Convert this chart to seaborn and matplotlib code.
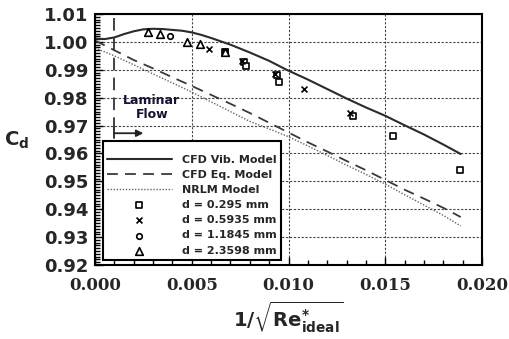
import numpy as np
import pandas as pd
import matplotlib
matplotlib.use("Agg")
import matplotlib.pyplot as plt
import seaborn as sns

# ---- data ----
vib_x = [0.0, 0.0005, 0.001, 0.0015, 0.002, 0.0025, 0.003, 0.0035, 0.004, 0.0045,
         0.005, 0.0055, 0.006, 0.0065, 0.007, 0.008, 0.009, 0.0099, 0.011, 0.012,
         0.013, 0.014, 0.015, 0.016, 0.017, 0.018, 0.0189]
vib_y = [1.0012, 1.0010, 1.0016, 1.0028, 1.0038, 1.0045, 1.0047, 1.0046, 1.0043, 1.0040,
         1.0034, 1.0025, 1.0014, 1.0002, 0.9990, 0.9962, 0.9932, 0.9900, 0.9865, 0.9831,
         0.9797, 0.9765, 0.9735, 0.9701, 0.9668, 0.9632, 0.9598]

eq_x = [0.0, 0.001, 0.002, 0.003, 0.004, 0.005, 0.006, 0.007, 0.008, 0.009, 0.010,
        0.011, 0.012, 0.013, 0.014, 0.015, 0.016, 0.017, 0.018, 0.0189]
eq_y = [1.0005, 0.9970, 0.9935, 0.9905, 0.9873, 0.9842, 0.9810, 0.9778, 0.9745, 0.9710,
        0.9675, 0.9640, 0.9607, 0.9573, 0.9540, 0.9505, 0.9470, 0.9438, 0.9405, 0.9372]

nrlm_x = [0.0, 0.001, 0.002, 0.003, 0.004, 0.005, 0.006, 0.007, 0.008, 0.009, 0.010,
          0.011, 0.012, 0.013, 0.014, 0.015, 0.016, 0.017, 0.018, 0.0189]
nrlm_y = [0.9978, 0.9950, 0.9918, 0.9885, 0.9853, 0.9820, 0.9785, 0.9750, 0.9715, 0.9688,
          0.9660, 0.9627, 0.9593, 0.9558, 0.9525, 0.9490, 0.9452, 0.9415, 0.9378, 0.9340]

d0295_x = [0.0067, 0.0077, 0.0078, 0.0094, 0.0095, 0.01335, 0.0154, 0.01886]
d0295_y = [0.9962, 0.9929, 0.9914, 0.9880, 0.9856, 0.9733, 0.9662, 0.9540]

d05935_x = [0.0059, 0.0067, 0.0076, 0.0093, 0.0108, 0.0132]
d05935_y = [0.9974, 0.9968, 0.9933, 0.9885, 0.9831, 0.9745]

d11845_x = [0.0039, 0.0067]
d11845_y = [1.0022, 0.9963]

d23598_x = [0.00276, 0.00336, 0.00474, 0.00543, 0.0067]
d23598_y = [1.0037, 1.0029, 1.0001, 0.9993, 0.9965]

x_ticks = [0.000, 0.005, 0.010, 0.015, 0.020]
x_tick_labels = ["0.000", "0.005", "0.010", "0.015", "0.020"]
y_ticks = [0.92, 0.93, 0.94, 0.95, 0.96, 0.97, 0.98, 0.99, 1.00, 1.01]
y_tick_labels = ["0.92", "0.93", "0.94", "0.95", "0.96", "0.97", "0.98", "0.99", "1.00", "1.01"]

model_labels = ["CFD Vib. Model", "CFD Eq. Model", "NRLM Model"]
data_labels = ["d = 0.295 mm", "d = 0.5935 mm", "d = 1.1845 mm", "d = 2.3598 mm"]

# ---- styling ----
sns.set_style("white")
plt.rcParams["font.family"] = ["DejaVu Sans"]
plt.rcParams["mathtext.fontset"] = "dejavusans"

fig = plt.figure(figsize=(5.09, 3.39), dpi=100)
ax = fig.add_axes([95 / 509, 1 - 265 / 339, 387 / 509, 251 / 339])

vib = pd.DataFrame({"x": vib_x, "y": vib_y})
eq = pd.DataFrame({"x": eq_x, "y": eq_y})
nrlm = pd.DataFrame({"x": nrlm_x, "y": nrlm_y})

sns.lineplot(data=vib, x="x", y="y", ax=ax, color="#2b2b2b", linewidth=1.5,
             label=model_labels[0], errorbar=None)
sns.lineplot(data=eq, x="x", y="y", ax=ax, color="#3a3a3a", linewidth=1.3,
             label=model_labels[1], errorbar=None)
ax.lines[-1].set_dashes((6, 4))
sns.lineplot(data=nrlm, x="x", y="y", ax=ax, color="#666666", linewidth=1.0,
             label=model_labels[2], errorbar=None)
ax.lines[-1].set_dashes((1, 1.2))

sns.scatterplot(x=d0295_x, y=d0295_y, ax=ax, marker="s", s=16, color="white",
                edgecolor="black", linewidth=1.2, label=data_labels[0], zorder=5)
sns.scatterplot(x=d05935_x, y=d05935_y, ax=ax, marker="x", s=18, color="black",
                linewidth=1.2, label=data_labels[1], zorder=5)
sns.scatterplot(x=d11845_x, y=d11845_y, ax=ax, marker="o", s=16, color="white",
                edgecolor="black", linewidth=1.2, label=data_labels[2], zorder=5)
sns.scatterplot(x=d23598_x, y=d23598_y, ax=ax, marker="^", s=30, color="white",
                edgecolor="black", linewidth=1.2, label=data_labels[3], zorder=5)

# laminar flow marker
ax.plot([0.001, 0.001], [1.0085, 0.9690], color="#333333", linewidth=1.3,
        dashes=(7, 4), zorder=3)
ax.plot([0.001, 0.001], [0.9690, 0.9656], color="#222222", linewidth=1.3, zorder=3)
ax.annotate("", xy=(0.0025, 0.96725), xytext=(0.001, 0.96725),
            arrowprops=dict(arrowstyle="-|>", color="#222222", lw=1.3,
                            mutation_scale=10, shrinkA=0, shrinkB=0))
ax.text(0.00293, 0.9765, "Laminar\nFlow", ha="center", va="center",
        fontsize=9, fontweight="bold", color="#141432", linespacing=1.1)

# axes
ax.set_xlim(0, 0.02)
ax.set_ylim(0.92, 1.01)
ax.set_xticks(x_ticks)
ax.set_xticklabels(x_tick_labels, fontfamily="DejaVu Serif", fontweight="bold", fontsize=12)
ax.set_yticks(y_ticks)
ax.set_yticklabels(y_tick_labels, fontweight="bold", fontsize=13)
ax.set_xticks(np.arange(0, 0.0201, 0.001), minor=True)
ax.set_yticks(np.arange(0.92, 1.0101, 0.001), minor=True)
ax.tick_params(axis="both", which="both", direction="in", top=False, right=False,
               bottom=True, left=True, color="black", width=1.0)
ax.tick_params(axis="both", which="major", length=6)
ax.tick_params(axis="both", which="minor", length=3.5)
ax.tick_params(axis="y", which="major", pad=5)
ax.tick_params(axis="x", which="major", pad=9)

ax.grid(True, which="major", color="#444444", linewidth=0.8, linestyle=(0, (2, 1.5)))
ax.set_axisbelow(True)
for sp in ax.spines.values():
    sp.set_visible(True)
    sp.set_color("black")
    sp.set_linewidth(1.5)

ax.set_ylabel("")
ax.set_xlabel(r"$\mathbf{1/}\sqrt{\mathbf{Re}^{\mathbf{*}}_{\mathbf{ideal}}}$",
              fontsize=14, labelpad=4)
fig.text(17 / 509, 1 - 140 / 339, r"$\mathbf{C_d}$", fontsize=14, ha="center", va="center")

leg = ax.legend(loc="lower left", bbox_to_anchor=(0.02, 0.02), frameon=True,
                fancybox=False, edgecolor="black", framealpha=1, facecolor="white",
                prop={"weight": "bold", "size": 8}, handlelength=5.8,
                handletextpad=0.9, labelspacing=0.46, borderpad=0.4, borderaxespad=0,
                scatterpoints=1, title=" ", title_fontsize=2)
leg.get_frame().set_linewidth(1.5)
leg.set_zorder(10)

fig.savefig("out.png", dpi=100)
